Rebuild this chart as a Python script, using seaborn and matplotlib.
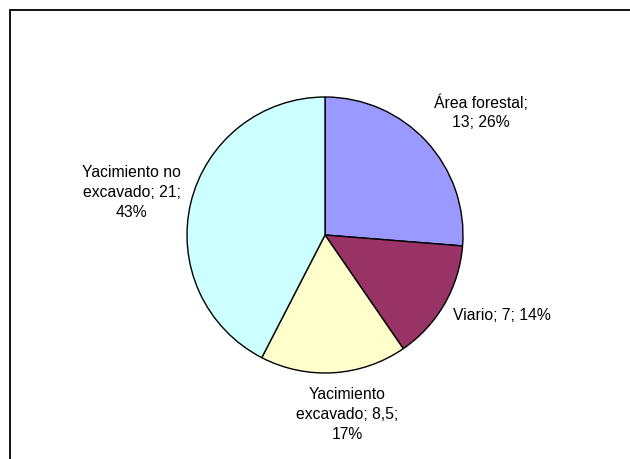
import seaborn as sns
import matplotlib.pyplot as plt
from matplotlib.patches import Rectangle

# data
categories = ['Área forestal', 'Viario', 'Yacimiento excavado', 'Yacimiento no excavado']
values = [13, 7, 8.5, 21]
value_labels = ['13', '7', '8,5', '21']
pct_labels = ['26%', '14%', '17%', '43%']
colors = ['#9999FF', '#993366', '#FFFFCC', '#CCFFFF']

sns.set_theme(style='white')
plt.rcParams['font.family'] = ['Liberation Sans', 'DejaVu Sans']

fig = plt.figure(figsize=(6.3, 4.59), dpi=100)

# outer chart border (cropped at right and bottom)
fig.patches.append(Rectangle((10 / 630, -0.05), 1.0, (459 - 10) / 459 + 0.05,
                             transform=fig.transFigure, fill=False,
                             edgecolor='black', linewidth=1.3))

# pie centre (325, 235) px, radius 138 px
cx, cy, r = 325, 235, 138
ax = fig.add_axes([(cx - r) / 630, (459 - cy - r) / 459, 2 * r / 630, 2 * r / 459])
ax.pie(values, colors=colors, startangle=90, counterclock=False,
       wedgeprops=dict(edgecolor='black', linewidth=1.0))
ax.set_xlim(-1, 1)
ax.set_ylim(-1, 1)
ax.set_axis_off()

label_texts = [
    f'{categories[0]};\n{value_labels[0]}; {pct_labels[0]}',
    f'{categories[1]}; {value_labels[1]}; {pct_labels[1]}',
    f'Yacimiento\nexcavado; {value_labels[2]};\n{pct_labels[2]}',
    f'Yacimiento no\nexcavado; {value_labels[3]};\n{pct_labels[3]}',
]
label_pos = [(1.13, 0.89), (1.28, -0.58), (0.16, -1.30), (-1.40, 0.31)]

for txt, (x, y) in zip(label_texts, label_pos):
    ax.text(x, y, txt, ha='center', va='center', fontsize=11.3,
            linespacing=1.4, color='black', clip_on=False)

plt.savefig('out.png', dpi=100)
